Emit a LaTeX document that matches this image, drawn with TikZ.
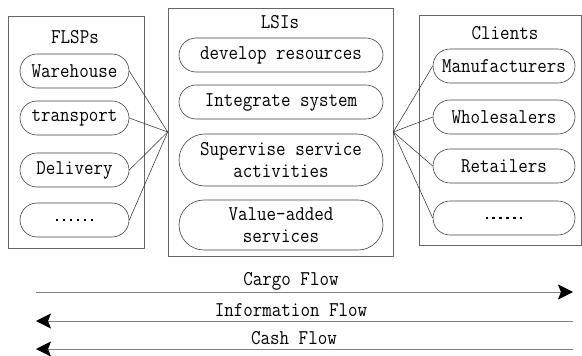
\documentclass[tikz,border=0pt]{standalone}
\usepackage{fontspec}
\newfontfamily\simtt{Latin Modern Mono}[FakeStretch=0.88]
\usetikzlibrary{shapes.misc,arrows.meta}

\newcommand{\dotrow}{\rule{2.4pt}{2.4pt}\hspace{4.5pt}\rule{2.4pt}{2.4pt}\hspace{4.5pt}%
  \rule{2.4pt}{2.4pt}\hspace{4.5pt}\rule{2.4pt}{2.4pt}\hspace{4.5pt}%
  \rule{2.4pt}{2.4pt}\hspace{4.5pt}\rule{2.4pt}{2.4pt}}

\tikzset{
  txt/.style={font=\simtt\fontsize{21}{22}\selectfont, inner sep=0pt},
  pill/.style={txt, draw=black!75, line width=0.6pt, rounded rectangle,
    minimum height=34pt, align=center},
  group/.style={draw=black!60, line width=0.7pt, rectangle, inner sep=0pt},
  link/.style={black!85, line width=0.5pt},
  flow/.style={draw=black!50, line width=0.9pt,
    -{Stealth[length=15pt,width=15pt,inset=3pt,black]}}
}

\begin{document}
\begin{tikzpicture}[x=1pt,y=-1pt]

\useasboundingbox (0,0) rectangle (582,356);

% the three groups
\node at (76,132)[group, minimum width=136pt, minimum height=232pt] (flsp) {};
\node at (280.5,132)[group, minimum width=225pt, minimum height=248pt] (lsi) {};
\node at (500.25,130)[group, minimum width=162.5pt, minimum height=230pt] (client) {};

\node at (75,37)[txt] (flspT) {FLSPs};
\node at (280,22)[txt] (lsiT) {LSIs};
\node at (505,33)[txt] (clientT) {Clients};

% FLSPs
\node at (74.5,71)[pill, minimum width=109pt] (ware) {Warehouse};
\node at (74.5,118)[pill, minimum width=109pt] (trans) {transport};
\node at (74.5,170)[pill, minimum width=109pt] (deliv) {Delivery};
\node at (74.5,220)[pill, minimum width=109pt] (fdots) {\dotrow};

% LSIs
\node at (281,55)[pill, minimum width=204pt] (devel) {develop resources};
\node at (281,102)[pill, minimum width=204pt] (integ) {Integrate system};
\node at (281,160)[pill, minimum width=204pt, minimum height=52pt] (super) {Supervise service\\activities};
\node at (281,225)[pill, minimum width=204pt, minimum height=50pt] (value) {Value-added\\services};

% Clients
\node at (504,66)[pill, minimum width=142pt] (manu) {Manufacturers};
\node at (504,117)[pill, minimum width=142pt] (whole) {Wholesalers};
\node at (504,166)[pill, minimum width=142pt] (retail) {Retailers};
\node at (504,218)[pill, minimum width=142pt] (cdots) {\dotrow};

% links
\draw [link] (ware.east) -- (lsi.west);
\draw [link] (trans.east) -- (lsi.west);
\draw [link] (deliv.east) -- (lsi.west);
\draw [link] (fdots.east) -- (lsi.west);

\draw [link] (lsi.east) -- (manu.west);
\draw [link] (lsi.east) -- (whole.west);
\draw [link] (lsi.east) -- (retail.west);
\draw [link] (lsi.east) -- (cdots.west);

% flows
\coordinate (cargoL) at (36,292);
\coordinate (cargoR) at (573,292);
\coordinate (infoL) at (36,321);
\coordinate (infoR) at (573,321);
\coordinate (cashL) at (36,349);
\coordinate (cashR) at (573,349);

\draw [flow] (cargoL) -- (cargoR);
\draw [flow] (infoR) -- (infoL);
\draw [flow] (cashR) -- (cashL);

\node at (291,281)[txt] (cargo) {Cargo Flow};
\node at (291,310)[txt] (info) {Information Flow};
\node at (294,338)[txt] (cash) {Cash Flow};

\end{tikzpicture}
\end{document}
